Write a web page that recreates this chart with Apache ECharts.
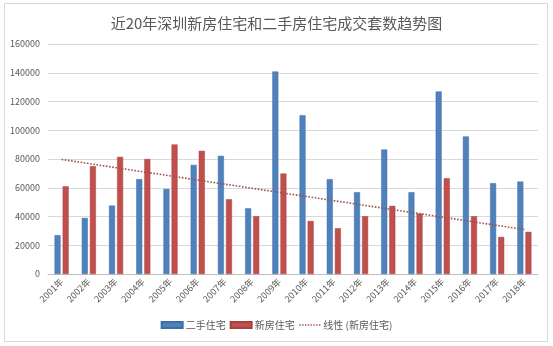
<!DOCTYPE html>
<html><head><meta charset="utf-8">
<script src="https://cdn.jsdelivr.net/npm/echarts@6/dist/echarts.min.js"></script>
<style>html,body{margin:0;padding:0;background:#fff}#c{width:553px;height:346px}</style>
</head><body><div id="c"></div>
<script>
const years = ['2001年','2002年','2003年','2004年','2005年','2006年','2007年','2008年','2009年','2010年','2011年','2012年','2013年','2014年','2015年','2016年','2017年','2018年'];
const secondHand = [27000,39000,47600,66000,59200,75900,82200,45700,140900,110500,66000,56900,86600,56900,127000,95700,63200,64300];
const newHomes = [61000,75000,81500,80000,90100,85700,52000,40200,69900,36900,31800,40200,47400,42000,66600,40200,25800,29300];
const yTicks = [0,20000,40000,60000,80000,100000,120000,140000,160000];

// Linear trendline (least squares) of 新房住宅, as Excel's 线性 trendline
const n = newHomes.length;
let sx=0, sy=0, sxy=0, sxx=0;
newHomes.forEach((v,i)=>{const x=i+1; sx+=x; sy+=v; sxy+=x*v; sxx+=x*x;});
const slope = (n*sxy - sx*sy)/(n*sxx - sx*sx);
const icpt = (sy - slope*sx)/n;
const trend = newHomes.map((v,i)=>Math.round(icpt + slope*(i+1)));

const font = '"Noto Sans CJK SC", "Noto Sans", sans-serif';
const chart = echarts.init(document.getElementById('c'), null, {renderer:'canvas'});
chart.setOption({
  animation:false,
  backgroundColor:'#fff',
  graphic:[{type:'rect', shape:{x:4.5,y:3.5,width:543,height:338}, style:{fill:'none', stroke:'#d9d9d9', lineWidth:1}, z:-1}],
  title:{text:'近20年深圳新房住宅和二手房住宅成交套数趋势图', left:'center', top:11,
    textStyle:{fontFamily:font, fontSize:15, fontWeight:'normal', color:'#595959'}},
  grid:{left:48, right:15, top:44, bottom:72, containLabel:false},
  legend:{bottom:11, left:'center', itemGap:4, itemWidth:21, itemHeight:6,
    textStyle:{fontFamily:font, fontSize:10, color:'#595959', padding:[0,0,0,-2]},
    data:[{name:'二手住宅', icon:'rect'},{name:'新房住宅', icon:'rect'},
      {name:'线性 (新房住宅)', itemStyle:{opacity:0}, lineStyle:{color:'#A0504D', width:1.4, type:[1.4,1.4]}}]},
  xAxis:{type:'category', data:years, boundaryGap:true,
    axisLine:{lineStyle:{color:'#bfbfbf'}}, axisTick:{show:false},
    axisLabel:{rotate:45, fontFamily:font, fontSize:9, color:'#595959', margin:6, interval:0}},
  yAxis:{type:'value', min:0, max:160000, interval:20000,
    axisLine:{show:false}, axisTick:{show:false},
    splitLine:{lineStyle:{color:'#d9d9d9'}},
    axisLabel:{fontFamily:font, fontSize:9, color:'#595959', margin:8,
      formatter:v=>yTicks.includes(v)?String(v):''}},
  series:[
    {name:'二手住宅', type:'bar', data:secondHand, barWidth:6, barGap:'35%',
      itemStyle:{color:'#4F81BD', borderColor:'#3e6ea8', borderWidth:0.5}},
    {name:'新房住宅', type:'bar', data:newHomes, barWidth:6,
      itemStyle:{color:'#C0504D', borderColor:'#a8413e', borderWidth:0.5}},
    {name:'线性 (新房住宅)', type:'line', data:trend, symbol:'none', z:5,
      lineStyle:{color:'#A0504D', width:1.6, type:[1.6,1.6]}, itemStyle:{color:'#A0504D'}}
  ]
});
</script></body></html>
